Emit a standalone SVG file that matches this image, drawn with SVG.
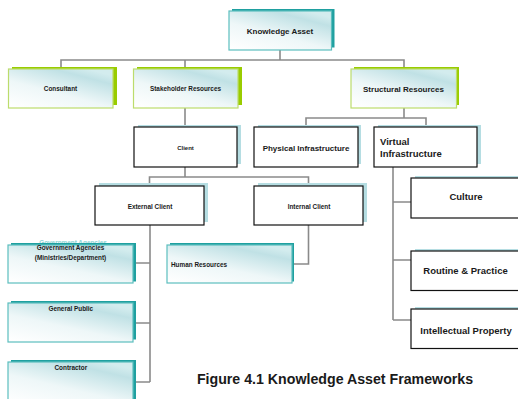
<svg xmlns="http://www.w3.org/2000/svg" width="518" height="399" viewBox="0 0 518 399">
<defs>
<linearGradient id="gf" x1="0.05" y1="1" x2="0.75" y2="0">
<stop offset="0" stop-color="#ffffff"/>
<stop offset="0.45" stop-color="#eef7f8"/>
<stop offset="0.85" stop-color="#c0e1e5"/>
<stop offset="1" stop-color="#d3ecee"/>
</linearGradient>
<style>
text{font-family:"Liberation Sans",Arial,sans-serif;font-weight:bold;fill:#1a1a1a;text-anchor:middle}
.con{fill:none;stroke:#8a8a8a;stroke-width:1.6}
.shG{fill:#99cc00}
.frG{fill:url(#gf);stroke:#bcdc6c;stroke-width:1.2}
.shT{fill:#1fa0a0}
.frT{fill:url(#gf);stroke:#5cbebe;stroke-width:1.2}
.shW{fill:#b5dde2}
.frW{fill:#ffffff;stroke:#111111;stroke-width:1.2}
.s6{font-size:6.4px}
.s8{font-size:8px}
.s9{font-size:9.5px}
.ghost{fill:#8fd4d4}
</style>
</defs>
<rect width="518" height="399" fill="#ffffff"/>
<g id="connectors">
<path class="con" d="M280,50 V60 M61,69 V60 H404 V69 M185,60 V69"/>
<path class="con" d="M185,108 V127"/>
<path class="con" d="M404,108 V118 M306,127 V118 H426 V127"/>
<path class="con" d="M185,167 V177 M149.5,186 V177 H308.5 V186"/>
<path class="con" d="M393,167 V320 M393,202 H411 M393,260 H411 M393,320 H411"/>
<path class="con" d="M150,225 V382 M136,263 H150 M136,323 H150 M136,382 H150"/>
<path class="con" d="M308.5,225 V264 H294"/>
</g>
<g id="knowledge-asset">
<rect class="shT" x="232" y="9" width="102.5" height="38.5"/>
<rect class="frT" x="229" y="11" width="102.5" height="39"/>
<text class="s8" x="280" y="33.8">Knowledge Asset</text>
</g>
<g id="consultant">
<rect class="shG" x="12" y="67" width="105" height="38"/>
<rect class="frG" x="8.5" y="69" width="104.5" height="39"/>
<text class="s6" x="60.5" y="90.5">Consultant</text>
</g>
<g id="stakeholder-resources">
<rect class="shG" x="137" y="67" width="105" height="38"/>
<rect class="frG" x="133.5" y="69" width="104.5" height="39"/>
<text class="s6" x="185.5" y="90.5">Stakeholder Resources</text>
</g>
<g id="structural-resources">
<rect class="shG" x="354" y="67" width="105" height="38"/>
<rect class="frG" x="351" y="69" width="105.5" height="39"/>
<text class="s8" x="403.5" y="91.8">Structural Resources</text>
</g>
<g id="client">
<rect class="shW" x="138" y="125" width="103" height="39"/>
<rect class="frW" x="134" y="127" width="103" height="40"/>
<text class="s6" x="185.5" y="149.8" style="font-size:6px">Client</text>
</g>
<g id="physical-infrastructure">
<rect class="shW" x="258" y="125" width="103" height="39"/>
<rect class="frW" x="254" y="127" width="104" height="40"/>
<text class="s8" x="306" y="150.8">Physical Infrastructure</text>
</g>
<g id="virtual-infrastructure">
<rect class="shW" x="378" y="125" width="103" height="39"/>
<rect class="frW" x="374" y="127" width="103" height="40"/>
<text class="s9" x="380" y="145" style="text-anchor:start">Virtual</text>
<text class="s9" x="380" y="157" style="text-anchor:start">Infrastructure</text>
</g>
<g id="external-client">
<rect class="shW" x="99" y="183" width="109" height="39"/>
<rect class="frW" x="95" y="186" width="109" height="39"/>
<text class="s6" x="150" y="208.8">External Client</text>
</g>
<g id="internal-client">
<rect class="shW" x="258" y="183" width="109" height="39"/>
<rect class="frW" x="254" y="186" width="109" height="39"/>
<text class="s6" x="309" y="208.8">Internal Client</text>
</g>
<g id="culture">
<rect class="shW" x="415" y="176" width="110" height="39"/>
<rect class="frW" x="411" y="178" width="112" height="40"/>
<text class="s9" x="466" y="200.3">Culture</text>
</g>
<g id="routine-practice">
<rect class="shW" x="415" y="249" width="110" height="39"/>
<rect class="frW" x="411" y="251" width="112" height="39.5"/>
<text class="s9" x="465.5" y="274">Routine &amp; Practice</text>
</g>
<g id="intellectual-property">
<rect class="shW" x="415" y="307" width="110" height="39"/>
<rect class="frW" x="411" y="309" width="112" height="39.5"/>
<text class="s9" x="466" y="333.5">Intellectual Property</text>
</g>
<g id="government-agencies">
<text class="s6 ghost" x="73" y="245">Government Agencies</text>
<rect class="shT" x="11" y="243" width="125" height="38.5"/>
<rect class="frT" x="8" y="245" width="125" height="38"/>
<text class="s6" x="70.5" y="249.5">Government Agencies</text>
<text class="s6" x="70.5" y="260">(Ministries/Department)</text>
</g>
<g id="general-public">
<rect class="shT" x="11" y="301" width="125" height="38.5"/>
<rect class="frT" x="8" y="303" width="125" height="39"/>
<text class="s6" x="70.8" y="311">General Public</text>
</g>
<g id="contractor">
<rect class="shT" x="11" y="360" width="125" height="42"/>
<rect class="frT" x="8" y="362" width="125" height="42"/>
<text class="s6" x="70.8" y="370">Contractor</text>
</g>
<g id="human-resources">
<rect class="shT" x="170" y="243" width="124" height="38.5"/>
<rect class="frT" x="167" y="245" width="125" height="38"/>
<text class="s6" x="171" y="266.5" style="text-anchor:start">Human Resources</text>
</g>
<text x="335" y="384" style="font-size:14.2px">Figure 4.1 Knowledge Asset Frameworks</text>
</svg>
